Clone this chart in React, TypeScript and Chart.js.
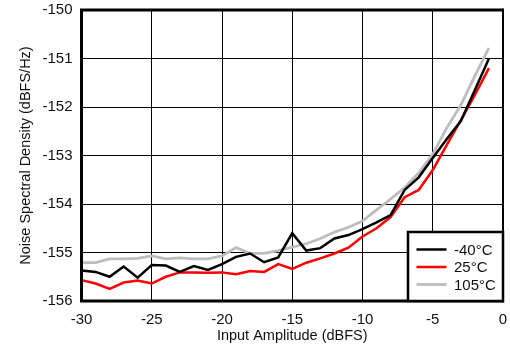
import React, { useEffect, useRef } from "react";
import { Chart, registerables } from "chart.js";

Chart.register(...registerables);

const inputAmplitude = [-30, -29, -28, -27, -26, -25, -24, -23, -22, -21, -20, -19, -18, -17, -16, -15, -14, -13, -12, -11, -10, -9, -8, -7, -6, -5, -4, -3, -2, -1];

const nsdMinus40 = [-155.37, -155.4, -155.5, -155.29, -155.52, -155.26, -155.27, -155.4, -155.28, -155.36, -155.24, -155.09, -155.02, -155.2, -155.1, -154.6, -154.96, -154.91, -154.71, -154.64, -154.52, -154.38, -154.23, -153.71, -153.45, -153.05, -152.66, -152.29, -151.65, -151.0];

const nsd25 = [-155.57, -155.64, -155.75, -155.62, -155.58, -155.64, -155.5, -155.41, -155.41, -155.42, -155.41, -155.45, -155.38, -155.4, -155.24, -155.34, -155.21, -155.12, -155.02, -154.9, -154.67, -154.5, -154.27, -153.86, -153.71, -153.3, -152.78, -152.27, -151.75, -151.2];

const nsd105 = [-155.21, -155.21, -155.13, -155.13, -155.12, -155.07, -155.13, -155.11, -155.13, -155.13, -155.07, -154.9, -155.02, -155.02, -154.96, -154.89, -154.82, -154.71, -154.58, -154.48, -154.35, -154.12, -153.9, -153.66, -153.36, -152.97, -152.43, -151.96, -151.36, -150.78];

const seriesLabels = ["-40°C", "25°C", "105°C"];
const seriesColors = ["#000000", "#ff0000", "#bdbdbd"];
const seriesWidths = [2.5, 2.5, 2.8];

const xTitle = "Input Amplitude (dBFS)";
const yTitle = "Noise Spectral Density (dBFS/Hz)";

const FONT = "'Liberation Sans', Arial, Helvetica, sans-serif";

const framePlugin = {
  id: "frame",
  afterDatasetsDraw(chart: any) {
    const { ctx, chartArea } = chart;
    const { left, right, top, bottom } = chartArea;
    ctx.save();
    ctx.strokeStyle = "#000";
    ctx.lineWidth = 3;
    ctx.beginPath();
    ctx.moveTo(left, top);
    ctx.lineTo(right, top);
    ctx.moveTo(left, top - 1.5);
    ctx.lineTo(left, bottom + 1.5);
    ctx.moveTo(left, bottom);
    ctx.lineTo(right, bottom);
    ctx.stroke();
    ctx.lineWidth = 2;
    ctx.beginPath();
    ctx.moveTo(right, top - 1.5);
    ctx.lineTo(right, bottom + 1.5);
    ctx.stroke();

    // legend box inside plot area, bottom right
    const boxW = 95;
    const boxH = 69;
    const bx = right - boxW;
    const by = bottom - boxH;
    ctx.fillStyle = "#fff";
    ctx.fillRect(bx, by, boxW, boxH);
    ctx.strokeStyle = "#000";
    ctx.lineWidth = 2.5;
    ctx.strokeRect(bx, by, boxW, boxH);
    ctx.font = `15px ${FONT}`;
    ctx.textBaseline = "middle";
    ctx.textAlign = "left";
    const rowY = [by + 17.5, by + 35, by + 52.5];
    seriesLabels.forEach((lab, i) => {
      ctx.strokeStyle = seriesColors[i];
      ctx.lineWidth = seriesWidths[i];
      ctx.beginPath();
      ctx.moveTo(bx + 8.5, rowY[i]);
      ctx.lineTo(bx + 38.5, rowY[i]);
      ctx.stroke();
      ctx.fillStyle = "#111";
      ctx.fillText(lab, bx + 46, rowY[i] + 1);
    });
    ctx.restore();
  },
};

export default function App() {
  const canvasRef = useRef<HTMLCanvasElement | null>(null);

  useEffect(() => {
    if (!canvasRef.current) return;
    const mk = (arr: number[]) => arr.map((y, i) => ({ x: inputAmplitude[i], y }));
    const chart = new Chart(canvasRef.current, {
      type: "line",
      data: {
        datasets: [nsdMinus40, nsd25, nsd105].map((d, i) => ({
          label: seriesLabels[i],
          data: mk(d),
          borderColor: seriesColors[i],
          backgroundColor: seriesColors[i],
          borderWidth: seriesWidths[i],
          pointRadius: 0,
          tension: 0,
          fill: false,
        })),
      },
      options: {
        animation: false,
        responsive: false,
        maintainAspectRatio: false,
        layout: { padding: { top: 10, right: 7, left: 0, bottom: 0 } },
        plugins: {
          legend: { display: false },
          tooltip: { enabled: false },
        },
        scales: {
          x: {
            type: "linear",
            min: -30,
            max: 0,
            afterFit: (s: any) => {
              s.height = 46;
              s.paddingLeft = 0;
              s.paddingRight = 0;
            },
            ticks: {
              stepSize: 5,
              padding: 10,
              color: "#111",
              font: { family: FONT, size: 15 },
              maxRotation: 0,
            },
            grid: { color: "#000", lineWidth: 1, drawTicks: false },
            border: { display: false },
            title: {
              display: true,
              text: xTitle,
              color: "#111",
              font: { family: FONT, size: 14.5 },
              padding: { top: 0, bottom: 2 },
            },
          },
          y: {
            type: "linear",
            min: -156,
            max: -150,
            afterFit: (s: any) => {
              s.width = 81.5;
              s.paddingTop = 0;
              s.paddingBottom = 0;
            },
            ticks: {
              stepSize: 1,
              padding: 9,
              color: "#111",
              font: { family: FONT, size: 15 },
            },
            grid: { color: "#000", lineWidth: 1, drawTicks: false },
            border: { display: false },
            title: {
              display: true,
              text: yTitle,
              color: "#111",
              font: { family: FONT, size: 14.5 },
              padding: { top: 17, bottom: 0 },
            },
          },
        },
      },
      plugins: [framePlugin],
    } as any);
    return () => chart.destroy();
  }, []);

  return (
    <div style={{ position: "fixed", left: 0, top: 0, width: 510, height: 347, background: "#fff" }}>
      <canvas ref={canvasRef} width={510} height={347} style={{ width: 510, height: 347, display: "block" }} />
    </div>
  );
}
